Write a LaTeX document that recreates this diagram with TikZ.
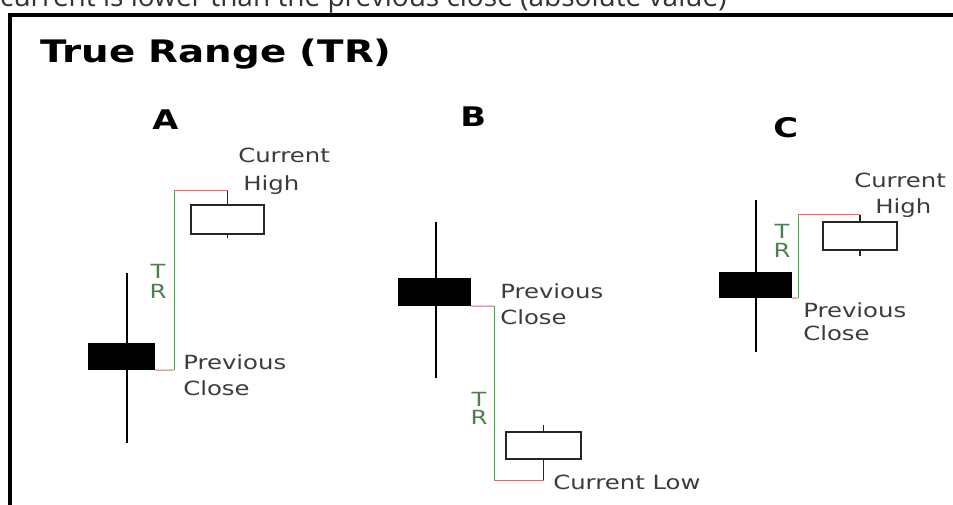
\documentclass[tikz,border=0pt]{standalone}
\usepackage{fontspec}
\setmainfont{DejaVu Sans}
\newfontfamily\topfont{Open Sans}
\definecolor{txtgray}{HTML}{3C3C3C}
\definecolor{trgreen}{HTML}{4F7F4F}
\definecolor{redln}{HTML}{CC7070}
\definecolor{grnln}{HTML}{5E9A5E}
\definecolor{topgray}{HTML}{333333}
\begin{document}
\begin{tikzpicture}[x=1pt,y=-1pt,
  lbl/.style={anchor=base west, inner sep=0pt, text=txtgray, font=\fontsize{19.5}{20}\selectfont, xscale=1.25},
  trlbl/.style={anchor=base, inner sep=0pt, text=trgreen, font=\fontsize{19.5}{20}\selectfont, xscale=1.25},
  heading/.style={anchor=base west, inner sep=0pt, text=black, font=\bfseries\fontsize{27}{28}\selectfont, xscale=1.25},
  candlebody/.style={fill=black, draw=none, inner sep=0pt},
  candlebox/.style={fill=white, draw=black!85, line width=1.5pt, inner sep=0pt},
  wick/.style={draw=black, line width=2pt},
  stem/.style={draw=black!85, line width=1.5pt},
  redseg/.style={draw=redln, line width=1pt},
  grnseg/.style={draw=grnln, line width=1pt}]
\useasboundingbox (0,0) rectangle (953,505);
\clip (0,0) rectangle (953,505);
\fill[white] (0,0) rectangle (953,505);

% clipped line of text above the picture
\node[anchor=base west, inner sep=0pt, text=topgray, font=\topfont\fontsize{28}{28}\selectfont] (toptext) at (0,7) {current is lower than the previous close (absolute value)};

% frame
\coordinate (fbl) at (10,505);
\coordinate (ftl) at (10,15);
\coordinate (ftr) at (953,15);
\draw[line width=3.8pt, line cap=rect] (fbl) -- (ftl) -- (ftr);

% title and panel letters
\node[heading, font=\bfseries\fontsize{31}{32}\selectfont] (title) at (40,63) {True Range (TR)};
\node[heading] (hA) at (152,130) {A};
\node[heading] (hB) at (460,127) {B};
\node[heading] (hC) at (773,138) {C};

% ---------------- A ----------------
\coordinate (wAt) at (127,273);
\coordinate (wAb) at (127,443);
\draw[wick] (wAt) -- (wAb);
\node[candlebody, minimum width=67pt, minimum height=27pt] (bodyA) at (121.5,356.5) {};
\node[candlebox, minimum width=73pt, minimum height=29pt] (boxA) at (227.5,219.5) {};
\coordinate (pA) at (174,370);
\coordinate (hiA) at (227.5,191);
\coordinate (tA) at (227.5,238.5);
\draw[redseg] (bodyA.south east) -- (pA);
\draw[grnseg] (pA) -- (pA |- hiA);
\draw[redseg] (pA |- hiA) -- (hiA);
\draw[stem] (hiA) -- (boxA.north);
\draw[stem] (boxA.south) -- (tA);
\node[trlbl] (tA1) at (158,278) {T};
\node[trlbl] (tA2) at (158,298) {R};
\node[lbl] (curA) at (238,163) {Current};
\node[lbl] (highA) at (243,191) {High};
\node[lbl] (prevA) at (183,369) {Previous};
\node[lbl] (closeA) at (183,395) {Close};

% ---------------- B ----------------
\coordinate (wBt) at (436,222);
\coordinate (wBb) at (436,378);
\draw[wick] (wBt) -- (wBb);
\node[candlebody, minimum width=73pt, minimum height=28pt] (bodyB) at (434.5,292) {};
\node[candlebox, minimum width=75pt, minimum height=27pt] (boxB) at (543.5,445.5) {};
\coordinate (pB) at (494,306);
\coordinate (loB) at (543.5,480);
\coordinate (tB) at (543.5,425);
\draw[redseg] (bodyB.south east) -- (pB);
\draw[grnseg] (pB) -- (pB |- loB);
\draw[redseg] (pB |- loB) -- (loB);
\draw[stem] (loB) -- (boxB.south);
\draw[stem] (boxB.north) -- (tB);
\node[trlbl] (tB1) at (479,406) {T};
\node[trlbl] (tB2) at (479,424) {R};
\node[lbl] (prevB) at (500,298) {Previous};
\node[lbl] (closeB) at (500,324) {Close};
\node[lbl] (lowB) at (553,489) {Current Low};

% ---------------- C ----------------
\coordinate (wCt) at (756,200);
\coordinate (wCb) at (756,352);
\draw[wick] (wCt) -- (wCb);
\node[candlebody, minimum width=73pt, minimum height=26pt] (bodyC) at (755.5,285) {};
\node[candlebox, minimum width=74pt, minimum height=28pt] (boxC) at (860,236) {};
\coordinate (pC) at (798,298);
\coordinate (hiC) at (860,215);
\coordinate (tC) at (860,256);
\draw[redseg] (bodyC.south east) -- (pC);
\draw[grnseg] (pC) -- (pC |- hiC);
\draw[redseg] (pC |- hiC) -- (hiC);
\draw[stem] (hiC) -- (boxC.north);
\draw[stem] (boxC.south) -- (tC);
\node[trlbl] (tC1) at (782,238) {T};
\node[trlbl] (tC2) at (782,257) {R};
\node[lbl] (curC) at (854,188) {Current};
\node[lbl] (highC) at (875,214) {High};
\node[lbl] (prevC) at (803,317) {Previous};
\node[lbl] (closeC) at (803,340) {Close};
\end{tikzpicture}
\end{document}
